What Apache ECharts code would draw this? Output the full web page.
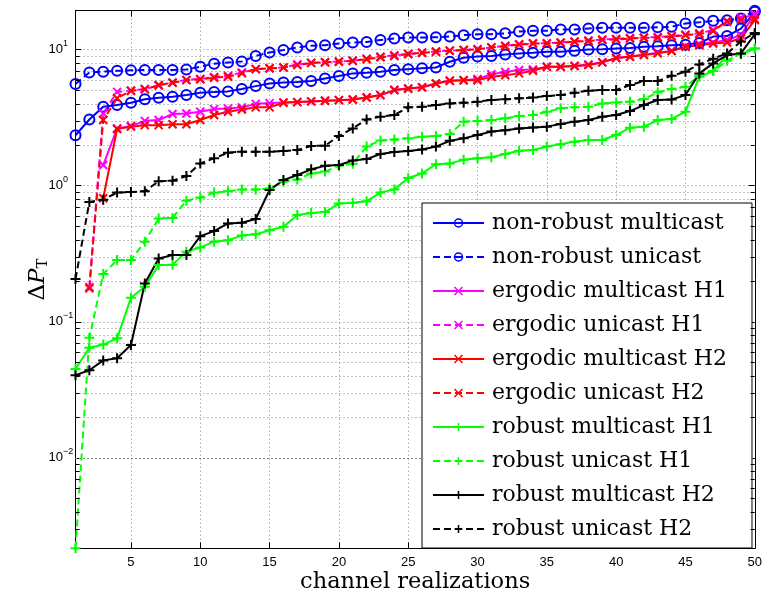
<!DOCTYPE html>
<html>
<head>
<meta charset="utf-8">
<script src="https://cdn.jsdelivr.net/npm/echarts@6/dist/echarts.min.js"></script>
<style>html,body{margin:0;padding:0;background:#fff}#chart{width:765px;height:604px}</style>
</head>
<body>
<div id="chart"></div>
<script>
// ---------------- data ----------------
const xValues = [1,2,3,4,5,6,7,8,9,10,11,12,13,14,15,16,17,18,19,20,21,22,23,24,25,26,27,28,29,30,31,32,33,34,35,36,37,38,39,40,41,42,43,44,45,46,47,48,49,50];

const seriesNames = [
  'non-robust multicast', 'non-robust unicast',
  'ergodic multicast H1', 'ergodic unicast H1',
  'ergodic multicast H2', 'ergodic unicast H2',
  'robust multicast H1', 'robust unicast H1',
  'robust multicast H2', 'robust unicast H2'
];

const nonRobustMulticast = [2.35,3.07,3.81,3.92,4.08,4.32,4.44,4.51,4.64,4.83, 4.88,4.94,5.15,5.4,5.65,5.75,5.8,5.9,6.15,6.4, 6.7,6.78,6.9,7.1,7.2,7.3,7.4,8.16,8.74,8.9, 9.0,9.23,9.4,9.5,9.67,9.67,9.84,10.05,10.1,10.2, 10.3,10.5,10.6,10.8,10.9,11.2,12.5,12.6,14.3,19.0];
const nonRobustUnicast = [5.6,6.8,6.9,7.0,7.05,7.1,7.1,7.1,7.15,7.5, 7.9,8.07,8.2,9.0,9.55,9.95,10.4,10.7,10.8,11.1, 11.3,11.4,11.8,12.1,12.3,12.3,12.35,12.5,12.8,13.0, 13.0,13.2,13.6,13.8,13.8,14.1,14.1,14.35,14.5,14.5, 14.5,14.5,14.6,14.75,15.6,15.9,16.3,16.5,17.0,19.36];
const ergodicMulticastH1 = [null,null,1.42,2.64,2.75,3.0,3.04,3.37,3.4,3.5, 3.66,3.7,3.77,4.0,4.05,4.1,4.12,4.17,4.22,4.26, 4.31,4.46,4.64,5.05,5.2,5.3,5.65,5.92,5.97,6.1, 6.6,6.85,7.1,7.15,7.5,7.5,7.6,7.8,8.1,8.7, 8.9,9.2,9.5,9.8,10.6,11.0,11.3,11.8,12.8,18.3];
const ergodicUnicastH1 = [null,0.18,3.4,4.9,5.0,5.15,5.45,5.75,6.0,6.1, 6.3,6.45,6.8,7.2,7.3,7.4,7.8,8.0,8.1,8.2, 8.3,8.6,8.9,9.1,9.3,9.5,9.7,9.85,9.95,10.1, 10.4,10.7,11.0,11.15,11.15,11.3,11.5,11.7,11.9,12.0, 12.2,12.3,12.4,12.6,12.9,13.2,14.0,16.0,17.2,18.0];
const ergodicMulticastH2 = [null,null,0.81,2.61,2.72,2.79,2.79,2.83,2.83,3.04, 3.31,3.5,3.64,3.77,3.77,4.08,4.12,4.17,4.22,4.26, 4.31,4.46,4.64,5.05,5.17,5.29,5.65,5.92,5.97,5.97, 6.33,6.5,6.7,7.0,7.5,7.5,7.6,7.7,8.07,8.7, 8.88,9.14,9.4,9.78,10.5,10.8,11.1,11.3,12.1,16.5];
const ergodicUnicastH2 = [null,0.176,3.04,4.4,5.0,5.11,5.5,5.72,5.98,6.05, 6.22,6.33,6.7,7.2,7.3,7.4,7.7,8.0,8.1,8.15, 8.3,8.5,8.8,9.0,9.3,9.5,9.67,9.84,9.95,10.05, 10.4,10.6,10.9,11.1,11.1,11.25,11.45,11.6,11.8,11.9, 12.1,12.25,12.25,12.5,12.8,13.0,13.7,16.3,16.5,16.8];
const robustMulticastH1 = [0.0449,0.0644,0.068,0.0755,0.150,0.181,0.261,0.263,0.327,0.352, 0.388,0.398,0.43,0.44,0.47,0.50,0.61,0.63,0.64,0.74, 0.75,0.77,0.89,0.94,1.14,1.23,1.44,1.46,1.55,1.59, 1.62,1.71,1.81,1.83,1.94,2.02,2.11,2.17,2.17,2.36, 2.67,2.72,3.04,3.1,3.5,6.33,6.97,9.14,9.25,10.2];
const robustUnicastH1 = [0.00216,0.0762,0.224,0.284,0.284,0.388,0.575,0.58,0.776,0.82, 0.89,0.91,0.94,0.94,0.955,1.07,1.11,1.23,1.27,1.40, 1.45,1.94,2.15,2.19,2.23,2.29,2.32,2.4,2.96,2.99, 3.04,3.13,3.25,3.31,3.5,3.71,3.77,3.81,4.03,4.1, 4.15,4.34,4.86,5.14,5.34,6.44,6.97,8.3,9.4,10.2];
const robustMulticastH2 = [0.0405,0.044,0.052,0.054,0.0674,0.191,0.292,0.309,0.309,0.426, 0.464,0.528,0.535,0.57,0.93,1.10,1.20,1.32,1.40,1.42, 1.53,1.57,1.71,1.77,1.80,1.85,1.94,2.14,2.23,2.36, 2.50,2.56,2.64,2.68,2.72,2.84,2.96,3.04,3.22,3.31, 3.54,3.92,4.27,4.31,4.64,6.7,7.93,9.14,9.4,13.0];
const robustUnicastH2 = [0.206,0.76,0.79,0.89,0.90,0.91,1.08,1.09,1.18,1.46, 1.59,1.75,1.78,1.78,1.78,1.8,1.83,1.96,1.97,2.32, 2.64,3.07,3.22,3.31,3.77,3.81,3.92,4.03,4.08,4.15, 4.27,4.32,4.39,4.46,4.56,4.64,4.83,5.0,5.05,5.05, 5.5,5.89,5.89,6.44,6.89,7.8,8.6,9.4,11.5,13.3];

const xTicks = [5,10,15,20,25,30,35,40,45,50];
const xMin = 1, xMax = 50;
const yMin = 0.00216, yMax = 19.36;
const yMinorTicks = [0.003,0.004,0.005,0.006,0.007,0.008,0.009,
  0.02,0.03,0.04,0.05,0.06,0.07,0.08,0.09,
  0.2,0.3,0.4,0.5,0.6,0.7,0.8,0.9,
  2,3,4,5,6,7,8,9];

// ---------------- styling ----------------
const SYM_CIRCLE = 'circle';
const SYM_X = 'path://M0,0L10,10M10,0L0,10';
const SYM_PLUS = 'path://M5,0L5,10M0,5L10,5';
const DASH = [7,4];
const GRID_LINE = {color:'#808080', type:[1,3], width:1};

const seriesSpec = [
  {data: nonRobustMulticast, color:'#0000ff', dashed:false, symbol:SYM_CIRCLE, size:10},
  {data: nonRobustUnicast,   color:'#0000ff', dashed:true,  symbol:SYM_CIRCLE, size:10},
  {data: ergodicMulticastH1, color:'#ff00ff', dashed:false, symbol:SYM_X, size:8},
  {data: ergodicUnicastH1,   color:'#ff00ff', dashed:true,  symbol:SYM_X, size:8},
  {data: ergodicMulticastH2, color:'#ff0000', dashed:false, symbol:SYM_X, size:8},
  {data: ergodicUnicastH2,   color:'#ff0000', dashed:true,  symbol:SYM_X, size:8},
  {data: robustMulticastH1,  color:'#00ff00', dashed:false, symbol:SYM_PLUS, size:10},
  {data: robustUnicastH1,    color:'#00ff00', dashed:true,  symbol:SYM_PLUS, size:10},
  {data: robustMulticastH2,  color:'#000000', dashed:false, symbol:SYM_PLUS, size:10},
  {data: robustUnicastH2,    color:'#000000', dashed:true,  symbol:SYM_PLUS, size:10}
];

const series = seriesSpec.map((s, k) => ({
  name: seriesNames[k],
  type: 'line',
  xAxisIndex: 0, yAxisIndex: 0,
  data: xValues.map((x, i) => [x, s.data[i]]),
  symbol: s.symbol,
  symbolSize: s.size,
  clip: false,
  silent: true,
  lineStyle: {color: s.color, width: 2, type: s.dashed ? DASH : 'solid'},
  itemStyle: {
    color: s.symbol === SYM_CIRCLE ? 'rgba(0,0,0,0)' : s.color,
    borderColor: s.color,
    borderWidth: 2
  },
  emphasis: {disabled: true}
}));

// minor grid lines (dotted) and minor ticks, positioned by the log axis itself
series.unshift({
  name: '_minorGrid', type: 'line', data: [], silent: true,
  markLine: {
    silent: true, z: 1, symbol: ['none','none'], animation: false,
    label: {show: false}, emphasis: {disabled: true},
    lineStyle: GRID_LINE,
    data: yMinorTicks.map(v => ({yAxis: v}))
  }
});
const tickSpan = 0.3;
series.unshift({
  name: '_minorTicks', type: 'line', data: [], silent: true,
  markLine: {
    silent: true, z: 6, symbol: ['none','none'], animation: false,
    label: {show: false}, emphasis: {disabled: true},
    lineStyle: {color:'#000', type:'solid', width:1},
    data: yMinorTicks.map(v => [{coord:[xMin, v]}, {coord:[xMin + tickSpan, v]}])
      .concat(yMinorTicks.map(v => [{coord:[xMax - tickSpan, v]}, {coord:[xMax, v]}]))
  }
});

const axisLineStyle = {show: true, onZero: false, lineStyle: {color:'#000', width:1}};

const yLabelFormatter = function (v) {
  const e = Math.log10(v);
  const r = Math.round(e);
  if (Math.abs(e - r) > 1e-6) return '';
  const ex = r < 0 ? '\u2212' + (-r) : String(r);
  return '{b|10}{s|' + ex + '}';
};

const option = {
  animation: false,
  backgroundColor: '#ffffff',
  grid: {left: 75.5, right: 7.4, top: 10.7, bottom: 55.7, containLabel: false},
  xAxis: [
    {
      type: 'value', min: xMin, max: xMax, position: 'bottom',
      axisLine: axisLineStyle,
      axisTick: {show: true, inside: true, length: 6, customValues: xTicks, lineStyle: {color:'#000'}},
      axisLabel: {customValues: xTicks, color:'#000', fontFamily:'Liberation Sans, Arial, sans-serif', fontSize: 13, margin: 8},
      splitLine: {show: true, lineStyle: GRID_LINE},
      name: 'channel realizations', nameLocation: 'middle', nameGap: 22, nameMoveOverlap: false,
      nameTextStyle: {fontFamily:'DejaVu Serif', fontSize: 22.5, color:'#000'}
    },
    {
      type: 'value', min: xMin, max: xMax, position: 'top',
      axisLine: axisLineStyle,
      axisTick: {show: true, inside: true, length: 6, customValues: xTicks, lineStyle: {color:'#000'}},
      axisLabel: {show: false},
      splitLine: {show: false}
    }
  ],
  yAxis: [
    {
      type: 'log', logBase: 10, min: yMin, max: yMax, position: 'left',
      axisLine: axisLineStyle,
      axisTick: {show: true, inside: true, length: 6, lineStyle: {color:'#000'}},
      axisLabel: {
        formatter: yLabelFormatter, align: 'left', margin: 27,
        showMinLabel: false, showMaxLabel: false,
        rich: {
          b: {fontSize: 13, fontFamily:'Liberation Sans, Arial, sans-serif', color:'#000'},
          s: {fontSize: 9, fontFamily:'Liberation Sans, Arial, sans-serif', color:'#000', padding:[0,0,13,0]}
        }
      },
      splitLine: {show: true, lineStyle: GRID_LINE},
      name: '{d|\u0394}{p|P}{t|T}', nameLocation: 'middle', nameRotate: 90, nameGap: 25,
      nameMoveOverlap: false,
      nameTextStyle: {
        rich: {
          d: {fontFamily:'DejaVu Serif', fontSize: 23, color:'#000'},
          p: {fontFamily:'DejaVu Serif', fontStyle:'italic', fontSize: 23, color:'#000'},
          t: {fontFamily:'DejaVu Serif', fontSize: 15, color:'#000', padding:[10,0,0,0]}
        }
      }
    },
    {
      type: 'log', logBase: 10, min: yMin, max: yMax, position: 'right',
      axisLine: axisLineStyle,
      axisTick: {show: true, inside: true, length: 6, lineStyle: {color:'#000'}},
      axisLabel: {show: false},
      splitLine: {show: false}
    }
  ],
  legend: {
    show: true, orient: 'vertical', left: 422, top: 203,
    padding: [8, 25, 7, 10],
    itemWidth: 51, itemHeight: 10, itemGap: 10,
    borderColor: '#000', borderWidth: 1, borderRadius: 0,
    backgroundColor: '#ffffff',
    selectedMode: false,
    data: seriesNames,
    itemStyle: {borderWidth: 1.5},
    lineStyle: {width: 2},
    textStyle: {fontFamily:'DejaVu Serif', fontSize: 22, color:'#000', lineHeight: 24, padding:[0,0,0,3]}
  },
  series: series
};

const chart = echarts.init(document.getElementById('chart'), null, {renderer: 'canvas'});
chart.setOption(option);
</script>
</body>
</html>
